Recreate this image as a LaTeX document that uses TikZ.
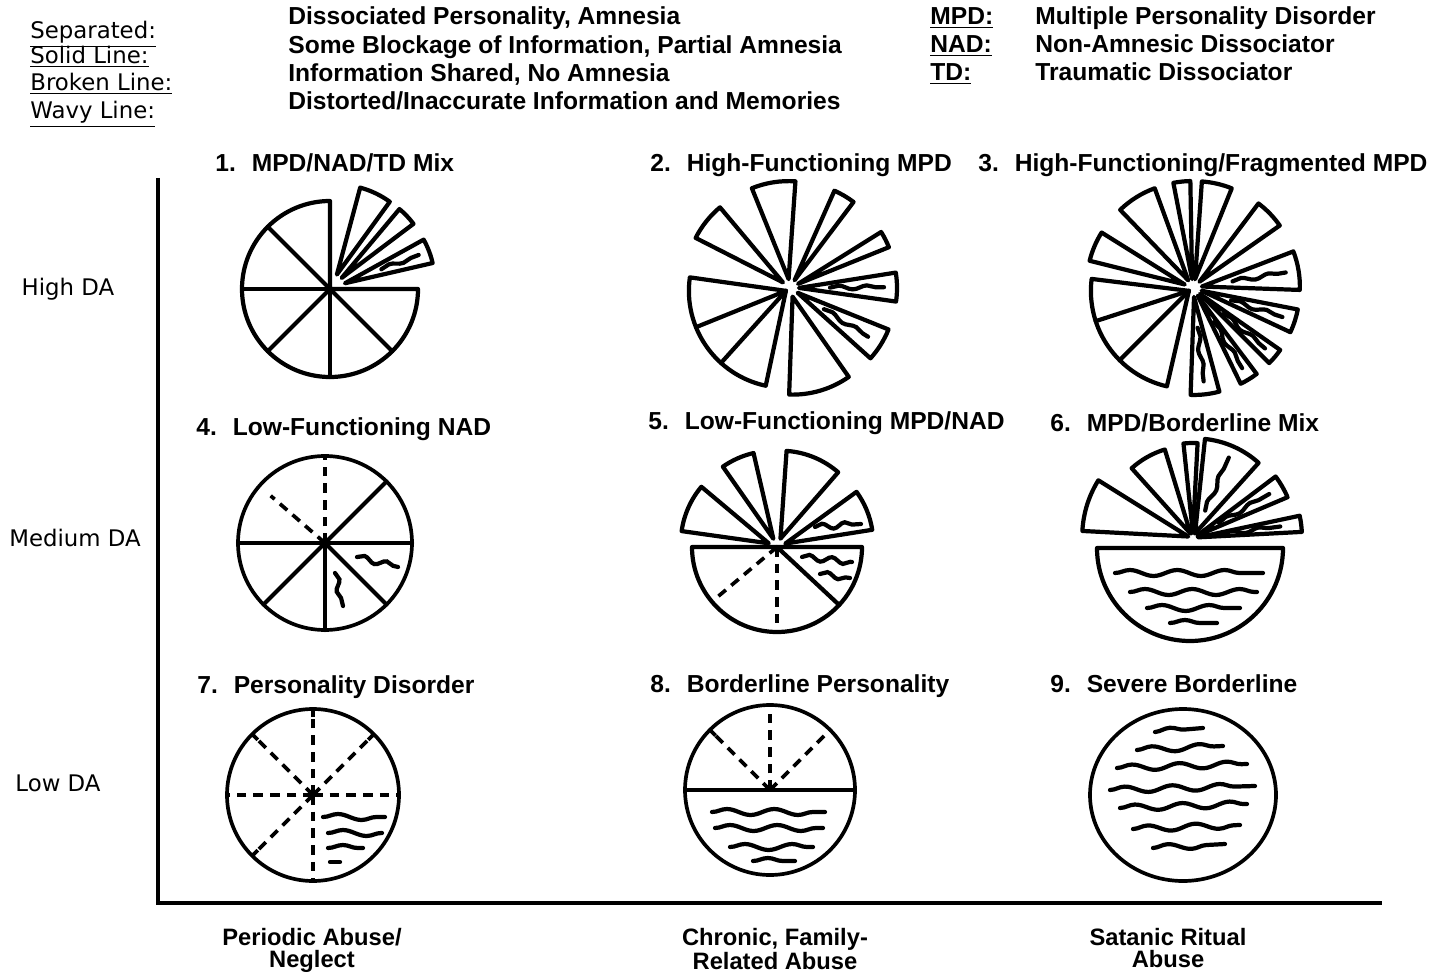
\documentclass[tikz,border=0pt]{standalone}
\usepackage{fontspec}
\setmainfont{Liberation Sans}
\newfontfamily\dvfont{DejaVu Sans}
\usetikzlibrary{calc,decorations.pathmorphing}

% exploded piece: centre, start angle, end angle, radius, offset
\newcommand{\expiece}[5]{%
  \draw[pieline] ($(#1)+({(#2+#3)/2}:#5)$) -- ++(#2:#4)
    arc[start angle=#2, end angle=#3, radius=#4] -- cycle;}
% wavy line along the middle of a piece: centre, start, end, from, to
\newcommand{\radwave}[5]{%
  \draw[swave] ($(#1)+({(#2+#3)/2}:#4)$) -- ($(#1)+({(#2+#3)/2}:#5)$);}

\begin{document}
\begin{tikzpicture}[x=0.02cm, y=0.02cm,
    pieline/.style={draw=black, line width=2.4pt, line join=round, line cap=round},
    outline/.style={draw=black, line width=2.1pt},
    broken/.style={draw=black, line width=2.1pt, dash pattern=on 5.5pt off 4pt},
    waveline/.style={draw=black, line width=2.4pt, line cap=round, decorate,
      decoration={snake, amplitude=1.7pt, segment length=27pt}},
    shortwave/.style={waveline, decoration={snake, amplitude=1.6pt, segment length=13pt}},
    swave/.style={waveline, decoration={snake, amplitude=1.1pt, segment length=16pt}},
    axis/.style={line width=1.8pt},
    title/.style={font=\fontsize{14}{16}\selectfont\bfseries, anchor=base west, inner sep=0pt},
    keylabel/.style={font=\dvfont\fontsize{13}{15}\selectfont, anchor=base west, inner sep=0pt},
    keytext/.style={font=\fontsize{14}{16}\selectfont\bfseries, anchor=base west, inner sep=0pt},
    rowlabel/.style={font=\dvfont\fontsize{13}{15}\selectfont, anchor=base, inner sep=0pt},
    collabel/.style={font=\fontsize{13.5}{12.5}\selectfont\bfseries, align=center, anchor=north, inner sep=0pt}
  ]
  \useasboundingbox (0,0) rectangle (1437,975);

  %-----------------------------
  % Legend
  %-----------------------------
  \node[keylabel] (sep)    at (30,936) {\underline{Separated:}};
  \node[keylabel] (solid)  at (30,911) {\underline{Solid Line:}};
  \node[keylabel] (broken) at (30,884) {\underline{Broken Line:}};
  \node[keylabel] (wavy)   at (30,856) {\underline{Wavy Line:}};
  \node[keytext] (sepdesc)    at (288,950) {Dissociated Personality, Amnesia};
  \node[keytext] (soliddesc)  at (288,921) {Some Blockage of Information, Partial Amnesia};
  \node[keytext] (brokendesc) at (288,893) {Information Shared, No Amnesia};
  \node[keytext] (wavydesc)   at (288,865) {Distorted/Inaccurate Information and Memories};

  \node[keytext] (mpd) at (930,950) {\underline{MPD:}};
  \node[keytext] (nad) at (930,922) {\underline{NAD:}};
  \node[keytext] (td)  at (930,894) {\underline{TD:}};
  \node[keytext] (mpddesc) at (1035,950) {Multiple Personality Disorder};
  \node[keytext] (naddesc) at (1035,922) {Non-Amnesic Dissociator};
  \node[keytext] (tddesc)  at (1035,894) {Traumatic Dissociator};

  %-----------------------------
  % Axes and labels
  %-----------------------------
  \coordinate (ytop) at (158,797);
  \coordinate (orig) at (158,72);
  \coordinate (xend) at (1382,72);
  \draw[axis] (ytop) -- (orig) -- (xend);

  \node[rowlabel] (high) at (68,679) {High DA};
  \node[rowlabel] (med)  at (75,429) {Medium DA};
  \node[rowlabel] (low)  at (58,184) {Low DA};

  \node[collabel] (periodic) at (312,47)  {Periodic Abuse/\\Neglect};
  \node[collabel] (chronic)  at (775,47)  {Chronic, Family-\\Related Abuse};
  \node[collabel] (satanic)  at (1168,47) {Satanic Ritual\\Abuse};

  %-----------------------------
  % Titles
  %-----------------------------
  \node[title] (t1) at (215,803)  {1.~ MPD/NAD/TD Mix};
  \node[title] (t2) at (650,803)  {2.~ High-Functioning MPD};
  \node[title] (t3) at (978,803)  {3.~ High-Functioning/Fragmented MPD};
  \node[title] (t4) at (196,540)  {4.~ Low-Functioning NAD};
  \node[title] (t5) at (648,545)  {5.~ Low-Functioning MPD/NAD};
  \node[title] (t6) at (1050,543) {6.~ MPD/Borderline Mix};
  \node[title] (t7) at (197,282)  {7.~ Personality Disorder};
  \node[title] (t8) at (650,283)  {8.~ Borderline Personality};
  \node[title] (t9) at (1050,283) {9.~ Severe Borderline};

  %-----------------------------
  % 1) MPD/NAD/TD mix
  %-----------------------------
  \coordinate (p1) at (330,686);
  \draw[pieline] (p1) -- ++(90:88) arc[start angle=90, end angle=360, radius=88] -- cycle;
  \foreach \a in {135,180,225,270,315} {
    \draw[pieline] (p1) -- ++(\a:88);
  }
  \foreach \a/\b in {54/75,37/50,13/29} {
    \expiece{p1}{\a}{\b}{90}{16}
  }
  \radwave{p1}{13}{29}{55}{95}

  %-----------------------------
  % 2) High-functioning MPD
  %-----------------------------
  \coordinate (p2) at (790,687);
  \expiece{p2}{172}{258}{97}{5}
  \foreach \a in {202,228} {
    \draw[pieline] ($(p2)+(215:5)$) -- ++(\a:97);
  }
  \foreach \a/\b in {268/305,318/338,-8/9,22/32,53/66,86/112,130/153} {
    \expiece{p2}{\a}{\b}{98}{9}
  }
  \radwave{p2}{318}{338}{40}{92}
  \radwave{p2}{-8}{9}{40}{94}

  %-----------------------------
  % 3) High-functioning / fragmented MPD
  %-----------------------------
  \coordinate (p3) at (1193,687);
  \expiece{p3}{173}{257}{98}{5}
  \foreach \a in {198,225} {
    \draw[pieline] ($(p3)+(215:5)$) -- ++(\a:98);
  }
  \foreach \a/\b in {148/166,110/134,91/101,68/86,35/53,-2/21,-25/-11,-45/-35,-64/-53,-92/-75} {
    \expiece{p3}{\a}{\b}{98}{9}
  }
  \foreach \a/\b in {-2/21,-25/-11,-45/-35,-64/-53,-92/-75} {
    \radwave{p3}{\a}{\b}{40}{94}
  }

  %-----------------------------
  % 4) Low-functioning NAD
  %-----------------------------
  \coordinate (p4) at (325,432);
  \draw[outline] (p4) circle[radius=87];
  \draw[pieline] ($(p4)+(180:87)$) -- ($(p4)+(0:87)$);
  \foreach \a in {45,-45,-90,-135} {
    \draw[pieline] (p4) -- ++(\a:87);
  }
  \draw[broken] (p4) -- ++(90:87);
  \draw[broken] (p4) -- ++(139:72);
  \draw[shortwave] ($(p4)+(32,-14)$) -- ($(p4)+(73,-24)$);
  \draw[shortwave] ($(p4)+(10,-30)$) -- ($(p4)+(18,-63)$);

  %-----------------------------
  % 5) Low-functioning MPD/NAD
  %-----------------------------
  \coordinate (p5) at (777,428);
  \draw[pieline] ($(p5)+(-85,0)$) arc[start angle=180, end angle=360, radius=85] -- cycle;
  \foreach \a in {220,270} {
    \draw[broken] (p5) -- ++(\a:85);
  }
  \draw[pieline] (p5) -- ++(-43:85);
  \foreach \a/\b in {140/172,103/125,49/86,9/36} {
    \expiece{p5}{\a}{\b}{88}{9}
  }
  \draw[shortwave] ($(p5)+(38,20)$) -- ($(p5)+(84,23)$);
  \draw[shortwave] ($(p5)+(25,-10)$) -- ($(p5)+(75,-15)$);
  \draw[shortwave] ($(p5)+(43,-27)$) -- ($(p5)+(73,-31)$);

  %-----------------------------
  % 6) MPD/borderline mix
  %-----------------------------
  \coordinate (p6) at (1190,427);
  \draw[pieline] ($(p6)+(-93,0)$) arc[start angle=180, end angle=360, radius=93] -- cycle;
  \foreach \xa/\xb/\dy in {-75/73/-25,-60/67/-44,-43/50/-60,-20/27/-75} {
    \draw[waveline] ($(p6)+(\xa,\dy)$) -- ($(p6)+(\xb,\dy)$);
  }
  \coordinate (q6) at (1193,437);
  \foreach \a/\b/\r in {148/177/106,107/132/88,87/96/90,48/84/95,23/37/98,3/12/104} {
    \expiece{q6}{\a}{\b}{\r}{5}
  }
  \foreach \a/\b in {48/84,23/37,3/12} {
    \radwave{q6}{\a}{\b}{30}{88}
  }

  %-----------------------------
  % 7) Personality disorder
  %-----------------------------
  \coordinate (p7) at (313,180);
  \draw[outline] (p7) circle[radius=86];
  \foreach \a in {0,45,...,270} {
    \draw[broken] (p7) -- ++(\a:86);
  }
  \foreach \a in {45,90,135,225} {
    \draw[outline] ($(p7)+(\a:78)$) -- ($(p7)+(\a:86)$);
  }
  \foreach \xa/\xb/\dy in {10/72/-22,15/69/-38,15/50/-53,17/27/-67} {
    \draw[waveline] ($(p7)+(\xa,\dy)$) -- ($(p7)+(\xb,\dy)$);
  }

  %-----------------------------
  % 8) Borderline personality
  %-----------------------------
  \coordinate (p8) at (770,185);
  \draw[outline] (p8) circle[radius=85];
  \draw[outline] ($(p8)+(-85,0)$) -- ($(p8)+(85,0)$);
  \foreach \a in {45,90,135} {
    \draw[broken] (p8) -- ++(\a:85);
  }
  \draw[outline] ($(p8)+(135:77)$) -- ($(p8)+(135:85)$);
  \foreach \xa/\xb/\dy in {-58/55/-22,-55/53/-38,-40/43/-57,-17/25/-71} {
    \draw[waveline] ($(p8)+(\xa,\dy)$) -- ($(p8)+(\xb,\dy)$);
  }

  %-----------------------------
  % 9) Severe borderline
  %-----------------------------
  \coordinate (p9) at (1183,180);
  \draw[outline] (p9) ellipse[x radius=93, y radius=86];
  \foreach \xa/\xb/\dy in {-28/20/63,-46/40/45,-66/64/27,-73/72/5,-63/64/-13,-50/57/-34,-30/42/-53} {
    \draw[waveline] ($(p9)+(\xa,\dy)$) -- ($(p9)+(\xb,\dy+4)$);
  }

\end{tikzpicture}
\end{document}
